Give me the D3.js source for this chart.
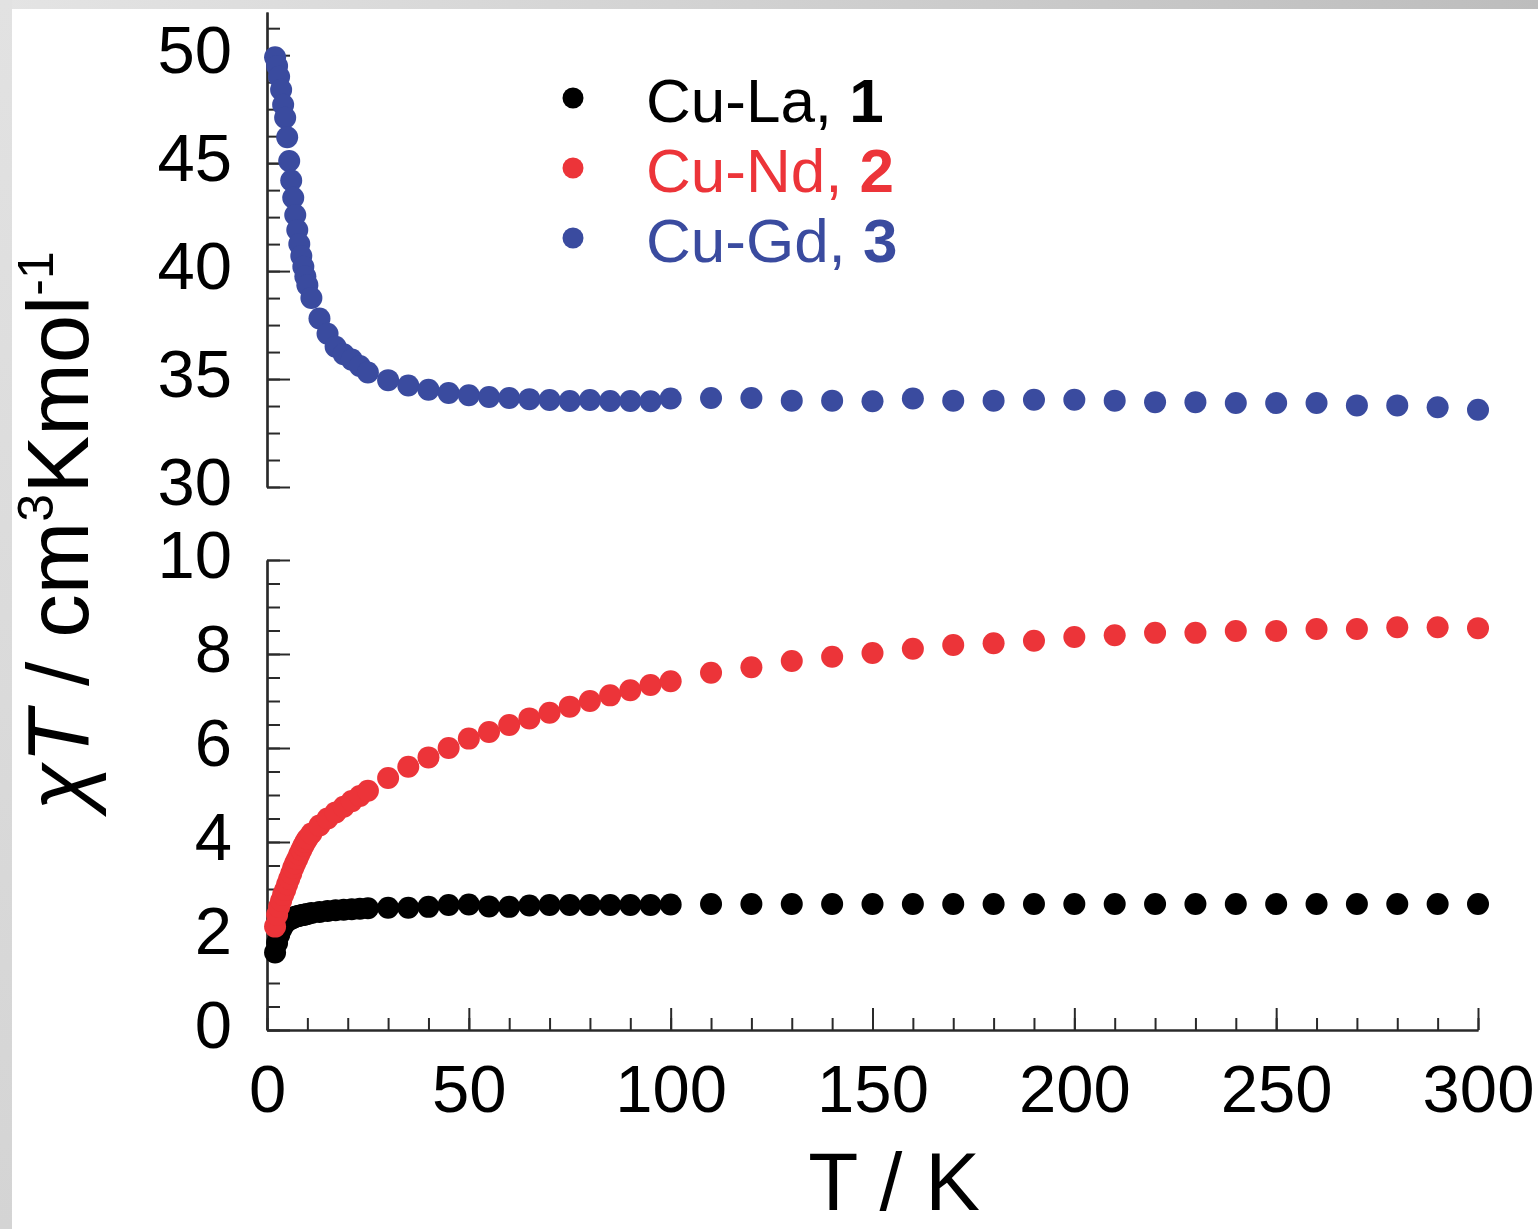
<!DOCTYPE html>
<html><head><meta charset="utf-8">
<script src="https://cdn.jsdelivr.net/npm/d3@7"></script>
<style>html,body{margin:0;padding:0;background:#fff;overflow:hidden;} svg{display:block;}</style>
</head><body>
<svg id="chart" width="1538" height="1229"></svg>
<script>
// ---- data ----
const temps = [2,2.5,3,3.5,4,4.5,5,5.5,6,6.5,7,7.5,8,8.5,9,9.5,10,11,13,15,17,19,21,23,25,
  30,35,40,45,50,55,60,65,70,75,80,85,90,95,100,
  110,120,130,140,150,160,170,180,190,200,210,220,230,240,250,260,270,280,290,300];
const cuLa = [1.65,1.85,2.02,2.14,2.22,2.28,2.32,2.35,2.37,2.39,2.41,2.42,2.43,2.44,2.45,2.46,2.47,2.49,2.51,2.53,2.55,2.56,2.57,2.58,2.59,
  2.6,2.6,2.62,2.66,2.67,2.63,2.62,2.65,2.66,2.66,2.66,2.66,2.66,2.66,2.67,
  2.68,2.68,2.68,2.68,2.68,2.68,2.68,2.68,2.68,2.68,2.68,2.68,2.68,2.68,2.68,2.68,2.68,2.68,2.68,2.68];
const cuNd = [2.2,2.45,2.62,2.75,2.88,2.98,3.1,3.22,3.33,3.45,3.55,3.64,3.74,3.83,3.92,4.0,4.07,4.18,4.35,4.5,4.63,4.75,4.87,4.98,5.09,
  5.36,5.6,5.8,6.0,6.2,6.34,6.49,6.63,6.75,6.88,7.0,7.12,7.23,7.34,7.42,
  7.6,7.72,7.85,7.94,8.02,8.11,8.19,8.23,8.28,8.36,8.4,8.45,8.45,8.49,8.49,8.53,8.53,8.57,8.57,8.55];
const cuGd = [49.9,49.5,49.0,48.4,47.7,47.1,46.2,45.1,44.2,43.4,42.6,41.9,41.25,40.7,40.2,39.75,39.35,38.75,37.8,37.1,36.5,36.15,35.9,35.6,35.3,
  34.95,34.7,34.5,34.35,34.25,34.17,34.12,34.07,34.03,33.98,34.03,33.98,33.98,33.97,34.1,
  34.12,34.12,34.0,34.0,33.97,34.1,34.0,34.0,34.04,34.04,34.0,33.93,33.93,33.89,33.89,33.89,33.78,33.78,33.69,33.58];
const xTicks = [0,50,100,150,200,250,300];
const yTicksUpper = [30,35,40,45,50];
const yTicksLower = [0,2,4,6,8,10];
const legendNames = ["Cu-La, ","Cu-Nd, ","Cu-Gd, "];
const legendNumbers = ["1","2","3"];
const seriesColors = ["#000000","#ec3439","#3a4b9f"];

// ---- layout ----
const FONT = "'Liberation Sans', Arial, Helvetica, sans-serif";
const svg = d3.select("#chart");

// background frame
const defs = svg.append("defs");
const gTop = defs.append("linearGradient").attr("id","gTop").attr("x1","0").attr("x2","1").attr("y1","0").attr("y2","0");
gTop.append("stop").attr("offset","0").attr("stop-color","#e4e4e4");
gTop.append("stop").attr("offset","1").attr("stop-color","#bdbdbd");
const gLeft = defs.append("linearGradient").attr("id","gLeft").attr("x1","0").attr("x2","0").attr("y1","0").attr("y2","1");
gLeft.append("stop").attr("offset","0").attr("stop-color","#e2e2e2");
gLeft.append("stop").attr("offset","1").attr("stop-color","#d4d4d4");
svg.append("rect").attr("x",0).attr("y",0).attr("width",1538).attr("height",1229).attr("fill","#ffffff");
svg.append("rect").attr("x",0).attr("y",0).attr("width",1538).attr("height",9).attr("fill","url(#gTop)");
svg.append("rect").attr("x",0).attr("y",0).attr("width",12).attr("height",1229).attr("fill","url(#gLeft)");

const x = d3.scaleLinear().domain([0,300]).range([267,1478]);
const yU = d3.scaleLinear().domain([30,52]).range([487,12]);
const yL = d3.scaleLinear().domain([0,10]).range([1030,560]);

const axisColor = "#2a2a2a";
function styleAxis(g){
  g.selectAll("path.domain").attr("stroke",axisColor).attr("stroke-width",2.2);
  g.selectAll(".tick line").attr("stroke",axisColor).attr("stroke-width",2);
  g.selectAll(".tick text").attr("fill","#000").style("font-family",FONT).style("font-size","67px");
}

// upper y axis
const gUminor = svg.append("g").attr("transform","translate(267,0)")
  .call(d3.axisLeft(yU).tickValues(d3.range(30,52,1.25)).tickSizeInner(-13).tickSizeOuter(0).tickFormat(""));
styleAxis(gUminor);
const gU = svg.append("g").attr("transform","translate(267,0)")
  .call(d3.axisLeft(yU).tickValues(yTicksUpper).tickSizeInner(-23).tickSizeOuter(0).tickPadding(35).tickFormat(d3.format("d")));
styleAxis(gU);
gU.selectAll(".tick text").attr("dy","0.26em");

// lower y axis
const gLminor = svg.append("g").attr("transform","translate(267,0)")
  .call(d3.axisLeft(yL).tickValues(d3.range(0,10.01,0.5)).tickSizeInner(-13).tickSizeOuter(0).tickFormat(""));
styleAxis(gLminor);
const gL = svg.append("g").attr("transform","translate(267,0)")
  .call(d3.axisLeft(yL).tickValues(yTicksLower).tickSizeInner(-23).tickSizeOuter(0).tickPadding(35).tickFormat(d3.format("d")));
styleAxis(gL);
gL.selectAll(".tick text").attr("dy","0.26em");

// x axis
const gXminor = svg.append("g").attr("transform","translate(0,1030)")
  .call(d3.axisBottom(x).tickValues(d3.range(0,301,10)).tickSizeInner(-12).tickSizeOuter(0).tickFormat(""));
styleAxis(gXminor);
const gX = svg.append("g").attr("transform","translate(0,1030)")
  .call(d3.axisBottom(x).tickValues(xTicks).tickSizeInner(-22).tickSizeOuter(0).tickPadding(34).tickFormat(d3.format("d")));
styleAxis(gX);

// data points
const R = 11;
function plotSeries(vals, yScale, color){
  const data = temps.map((t,i)=>({t:t, v:vals[i]}));
  svg.append("g").selectAll("circle").data(data).join("circle")
    .attr("cx",d=>x(d.t)).attr("cy",d=>yScale(d.v)).attr("r",R).attr("fill",color);
}
plotSeries(cuGd, yU, seriesColors[2]);
plotSeries(cuLa, yL, seriesColors[0]);
plotSeries(cuNd, yL, seriesColors[1]);

// legend
const legY = [98,168,238];
legendNames.forEach((name,i)=>{
  svg.append("circle").attr("cx",573).attr("cy",legY[i]).attr("r",10.5).attr("fill",seriesColors[i]);
  const t = svg.append("text").attr("x",646).attr("y",legY[i]+24)
    .attr("fill",seriesColors[i]).style("font-family",FONT).style("font-size","62px");
  t.append("tspan").text(name);
  t.append("tspan").style("font-weight","bold").text(legendNumbers[i]);
});

// axis titles
svg.append("text").attr("x",894).attr("y",1210).attr("text-anchor","middle")
  .style("font-family",FONT).style("font-size","82px").attr("fill","#000").text("T / K");

const yt = svg.append("text").attr("transform","translate(88,531) rotate(-90)")
  .attr("text-anchor","middle").attr("fill","#000")
  .style("font-family",FONT).style("font-size","87px");
yt.append("tspan").style("font-style","italic").text("χ");
yt.append("tspan").style("font-style","italic").text("T");
yt.append("tspan").text(" / cm");
yt.append("tspan").attr("dy",-35).style("font-size","50px").text("3");
yt.append("tspan").attr("dy",35).text("Kmol");
yt.append("tspan").attr("dy",-35).style("font-size","50px").text("-1");
</script>
</body></html>
